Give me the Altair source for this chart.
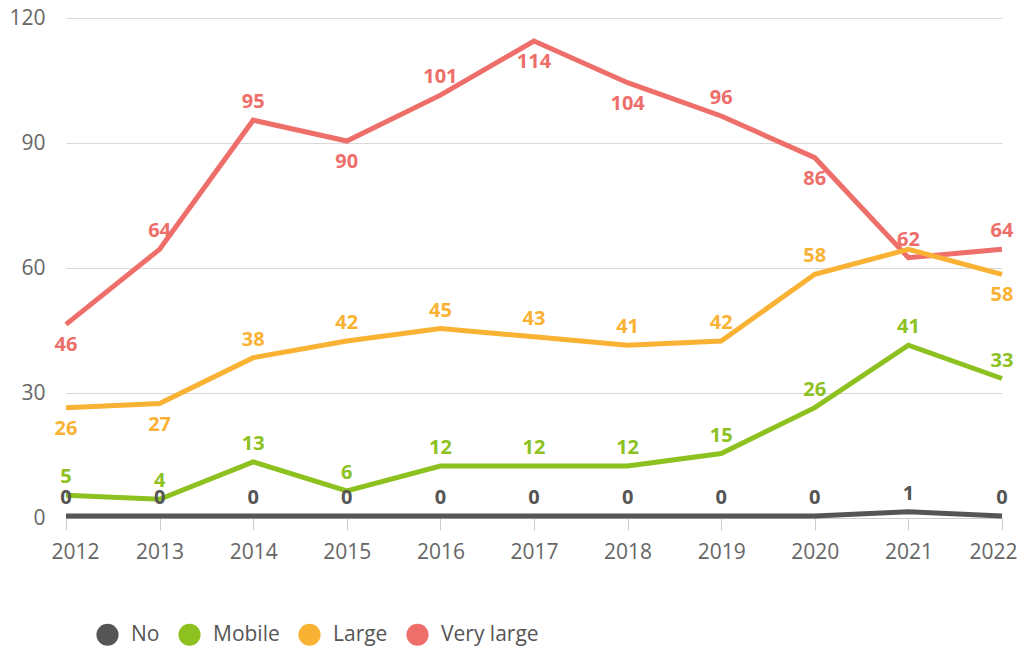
import altair as alt
import pandas as pd

years = [2012, 2013, 2014, 2015, 2016, 2017, 2018, 2019, 2020, 2021, 2022]
series_names = ["No", "Mobile", "Large", "Very large"]
no_counts = [0, 0, 0, 0, 0, 0, 0, 0, 0, 1, 0]
mobile_counts = [5, 4, 13, 6, 12, 12, 12, 15, 26, 41, 33]
large_counts = [26, 27, 38, 42, 45, 43, 41, 42, 58, 64, 58]
very_large_counts = [46, 64, 95, 90, 101, 114, 104, 96, 86, 62, 64]
series_colors = ["#555555", "#8cc11f", "#f9b233", "#ee6e6a"]
labels_below = {"Very large": [2012, 2015, 2017, 2018, 2020], "Large": [2012, 2013, 2022]}
labels_hidden = {"Large": [2021]}
draw_order = ["No", "Mobile", "Very large", "Large"]

values = {"No": no_counts, "Mobile": mobile_counts, "Large": large_counts,
          "Very large": very_large_counts}
rows = []
for k, s in enumerate(draw_order):
    for yr, v in zip(years, values[s]):
        rows.append({
            "year": str(yr),
            "series": s,
            "value": v,
            "label": "" if yr in labels_hidden.get(s, []) else str(v),
            "pos": "below" if yr in labels_below.get(s, []) else "above",
            "k": k,
        })
df = pd.DataFrame(rows)

FONT = "Open Sans"
color_scale = alt.Scale(domain=series_names, range=series_colors)

base = alt.Chart(df).encode(
    x=alt.X("year:O", scale=alt.Scale(type="point", padding=0),
            axis=alt.Axis(title=None, labelAngle=0, labelFontSize=21,
                          labelColor="#666666", labelFont=FONT, labelPadding=11,
                          labelFlush=True, labelFlushOffset=15,
                          tickSize=12, tickColor="#cccccc", domainColor="#cccccc",
                          grid=False)),
    y=alt.Y("value:Q", scale=alt.Scale(domain=[0, 120]),
            axis=alt.Axis(title=None, values=[0, 30, 60, 90, 120], grid=True,
                          gridColor="#d9d9d9", domain=False, ticks=False,
                          labelPadding=21, labelFontSize=21, labelColor="#666666",
                          labelFont=FONT)),
)

nolegend = alt.Color("series:N", scale=color_scale, legend=None)

legend_layer = base.mark_circle(opacity=1).encode(
    color=alt.Color(
        "series:N", scale=color_scale,
        legend=alt.Legend(
            title=None, orient="none", direction="horizontal",
            legendX=30, legendY=605, symbolType="circle", symbolSize=490,
            symbolStrokeWidth=0, symbolOpacity=1, labelFontSize=21,
            labelColor="#555555", labelFont=FONT, columnPadding=18,
            labelOffset=12, padding=0,
        ),
    ),
    size=alt.value(0),
)

lines = base.mark_line(strokeWidth=5, strokeJoin="miter", yOffset=-2).encode(
    color=nolegend, detail="k:O", order="year:O")

above = base.mark_text(fontSize=20, fontWeight="bold", font=FONT, dy=-20).encode(
    color=nolegend, text="label:N").transform_filter(alt.datum.pos == "above")
below = base.mark_text(fontSize=20, fontWeight="bold", font=FONT, dy=19).encode(
    color=nolegend, text="label:N").transform_filter(alt.datum.pos == "below")

chart = alt.layer(legend_layer, lines, above, below).properties(
    width=936, height=500,
    autosize=alt.AutoSizeParams(type="none"),
    padding={"left": 58, "top": 10, "right": 15, "bottom": 130},
).configure(font=FONT).configure_view(stroke=None).configure_axisY(domain=False)

chart.save("out.html", embed_options={"renderer": "svg", "actions": False})
